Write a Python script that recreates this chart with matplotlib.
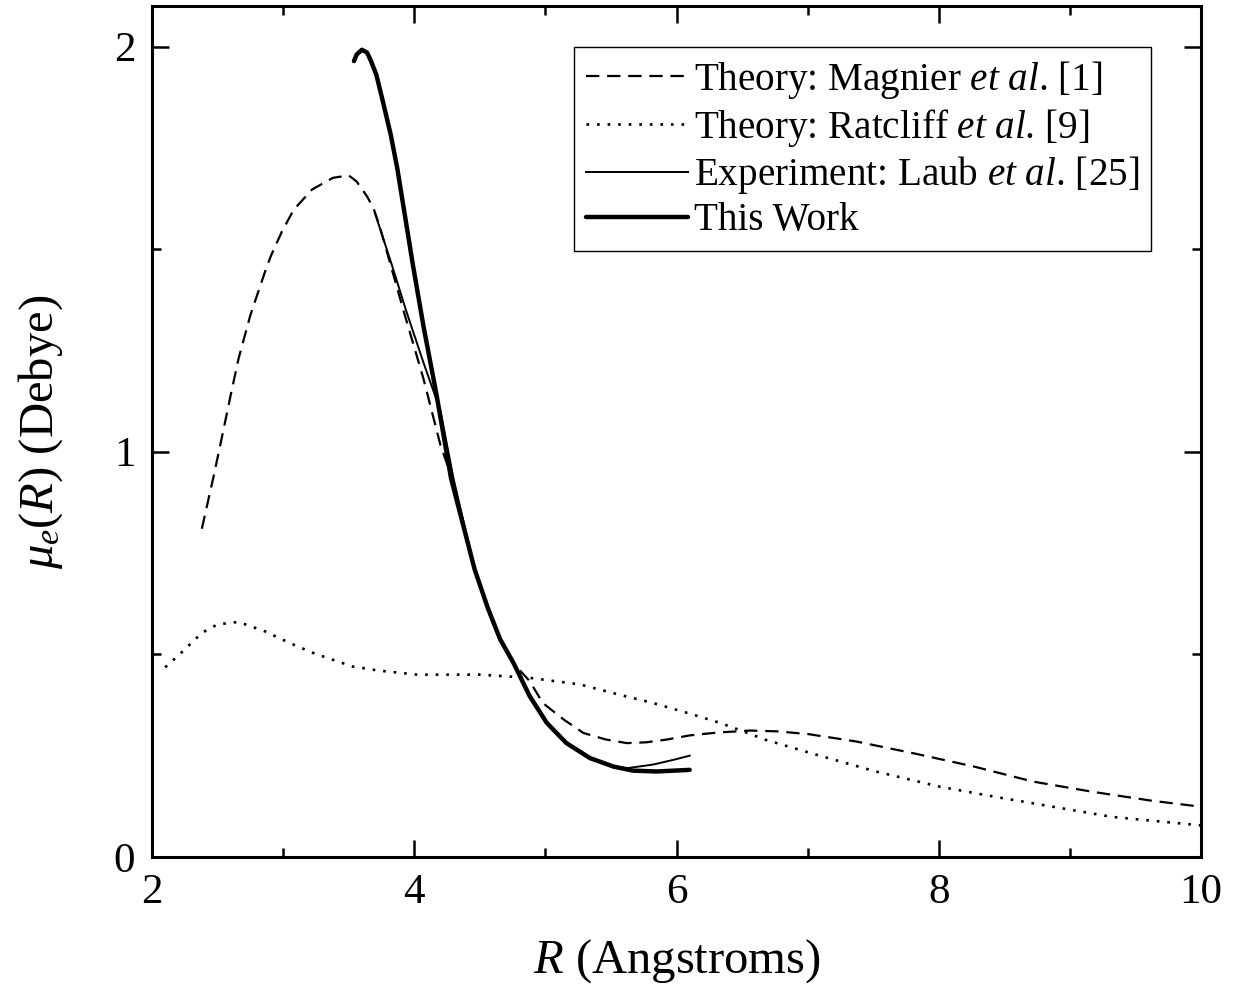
import numpy as np
import matplotlib
matplotlib.use("Agg")
import matplotlib.pyplot as plt
from matplotlib.ticker import MultipleLocator

# Dipole moment curves
magnier_r = [2.38, 2.47, 2.52, 2.60, 2.66, 2.75, 2.875, 2.91, 2.99, 3.08, 3.22, 3.38,
             3.50, 3.56, 3.64, 3.69, 3.74, 3.92, 4.07, 4.20, 4.29, 4.46, 4.62, 4.75,
             4.88, 4.98, 5.14, 5.29, 5.46, 5.62, 5.77, 5.93, 6.10, 6.31, 6.56, 6.77,
             7.01, 7.37, 7.82, 8.27, 8.72, 9.17, 9.62, 10.0]
magnier_mu = [0.81, 0.94, 1.016, 1.14, 1.23, 1.337, 1.457, 1.486, 1.543, 1.597, 1.647, 1.676,
              1.682, 1.667, 1.63, 1.60, 1.552, 1.346, 1.18, 1.016, 0.933, 0.71, 0.56, 0.48,
              0.434, 0.38, 0.339, 0.306, 0.29, 0.281, 0.283, 0.29, 0.30, 0.307, 0.312, 0.31,
              0.303, 0.285, 0.255, 0.223, 0.186, 0.161, 0.139, 0.124]

ratcliff_r = [2.10, 2.21, 2.38, 2.50, 2.66, 2.86, 3.05, 3.24, 3.53, 3.73, 4.02, 4.50,
              4.88, 5.26, 5.57, 5.82, 6.13, 6.33, 6.50, 6.68, 7.07, 7.52, 8.00,
              8.42, 8.87, 9.32, 10.0]
ratcliff_mu = [0.468, 0.50, 0.553, 0.574, 0.58, 0.557, 0.528, 0.502, 0.47, 0.46, 0.45, 0.45,
               0.442, 0.426, 0.40, 0.38, 0.351, 0.331, 0.311, 0.289, 0.252, 0.211, 0.174,
               0.149, 0.124, 0.099, 0.078]

laub_r = [3.70, 3.82, 3.94, 4.07, 4.20, 4.30, 4.46, 4.60, 4.75, 4.88, 5.01, 5.16,
          5.34, 5.50, 5.62, 5.82, 5.98, 6.10]
laub_mu = [1.589, 1.47, 1.346, 1.22, 1.10, 0.933, 0.71, 0.575, 0.485, 0.40, 0.334, 0.283,
           0.245, 0.225, 0.219, 0.228, 0.24, 0.25]

this_r = [3.54, 3.56, 3.60, 3.64, 3.67, 3.71, 3.76, 3.82, 3.87, 3.92, 3.99, 4.07,
          4.17, 4.28, 4.38, 4.46, 4.56, 4.655, 4.756, 4.88, 5.01, 5.16, 5.34, 5.52,
          5.67, 5.85, 6.10]
this_mu = [1.964, 1.98, 1.992, 1.985, 1.964, 1.931, 1.865, 1.783, 1.70, 1.60, 1.46, 1.31,
           1.14, 0.935, 0.81, 0.71, 0.615, 0.537, 0.479, 0.397, 0.331, 0.281, 0.244, 0.223,
           0.213, 0.211, 0.215]

labels = [r"Theory: Magnier $\mathit{et\ al}$. [1]",
          r"Theory: Ratcliff $\mathit{et\ al}$. [9]",
          r"Experiment: Laub $\mathit{et\ al}$. [25]",
          "This Work"]

plt.rcParams["font.family"] = ["Liberation Serif", "DejaVu Serif"]
plt.rcParams["mathtext.fontset"] = "custom"
plt.rcParams["mathtext.rm"] = "Liberation Serif"
plt.rcParams["mathtext.it"] = "Liberation Serif:italic"

fig = plt.figure(figsize=(12.34, 9.98), dpi=100)
ax = fig.add_axes([0.1232, 0.1413, 0.8501, 0.8527])

ax.plot(magnier_r, magnier_mu, color="black", lw=1.6, linestyle=(0, (6, 3.5)), label=labels[0])
ax.plot(ratcliff_r, ratcliff_mu, color="black", lw=1.9, linestyle=(0, (1, 3)), label=labels[1])
ax.plot(laub_r, laub_mu, color="black", lw=1.4, label=labels[2])
ax.plot(this_r, this_mu, color="black", lw=3.2, solid_capstyle="round",
        solid_joinstyle="round", label=labels[3])

ax.set_xlim(2, 10)
ax.set_ylim(0, 2.1)
ax.xaxis.set_major_locator(MultipleLocator(2))
ax.xaxis.set_minor_locator(MultipleLocator(1))
ax.yaxis.set_major_locator(MultipleLocator(1))
ax.yaxis.set_minor_locator(MultipleLocator(0.5))
ax.tick_params(which="both", direction="in", top=True, right=True, width=1.8,
               labelsize=31, pad=12)
ax.tick_params(which="major", length=12)
ax.tick_params(which="minor", length=6.5)
for s in ax.spines.values():
    s.set_linewidth(2.2)

ax.set_xlabel(r"$R$ (Angstroms)", fontsize=35, labelpad=18)
ax.set_ylabel(r"$\mu_e(R)$ (Debye)", fontsize=35, labelpad=35)

leg = ax.legend(loc="upper right", bbox_to_anchor=(0.9327, 0.953),
                bbox_transform=fig.transFigure, borderaxespad=0,
                fontsize=28.2, frameon=True, fancybox=False, framealpha=1,
                edgecolor="black", handlelength=2.6, handletextpad=0.15,
                labelspacing=0.15, borderpad=0.3)
leg.get_frame().set_linewidth(1.0)

fig.savefig("out.png", dpi=100)
